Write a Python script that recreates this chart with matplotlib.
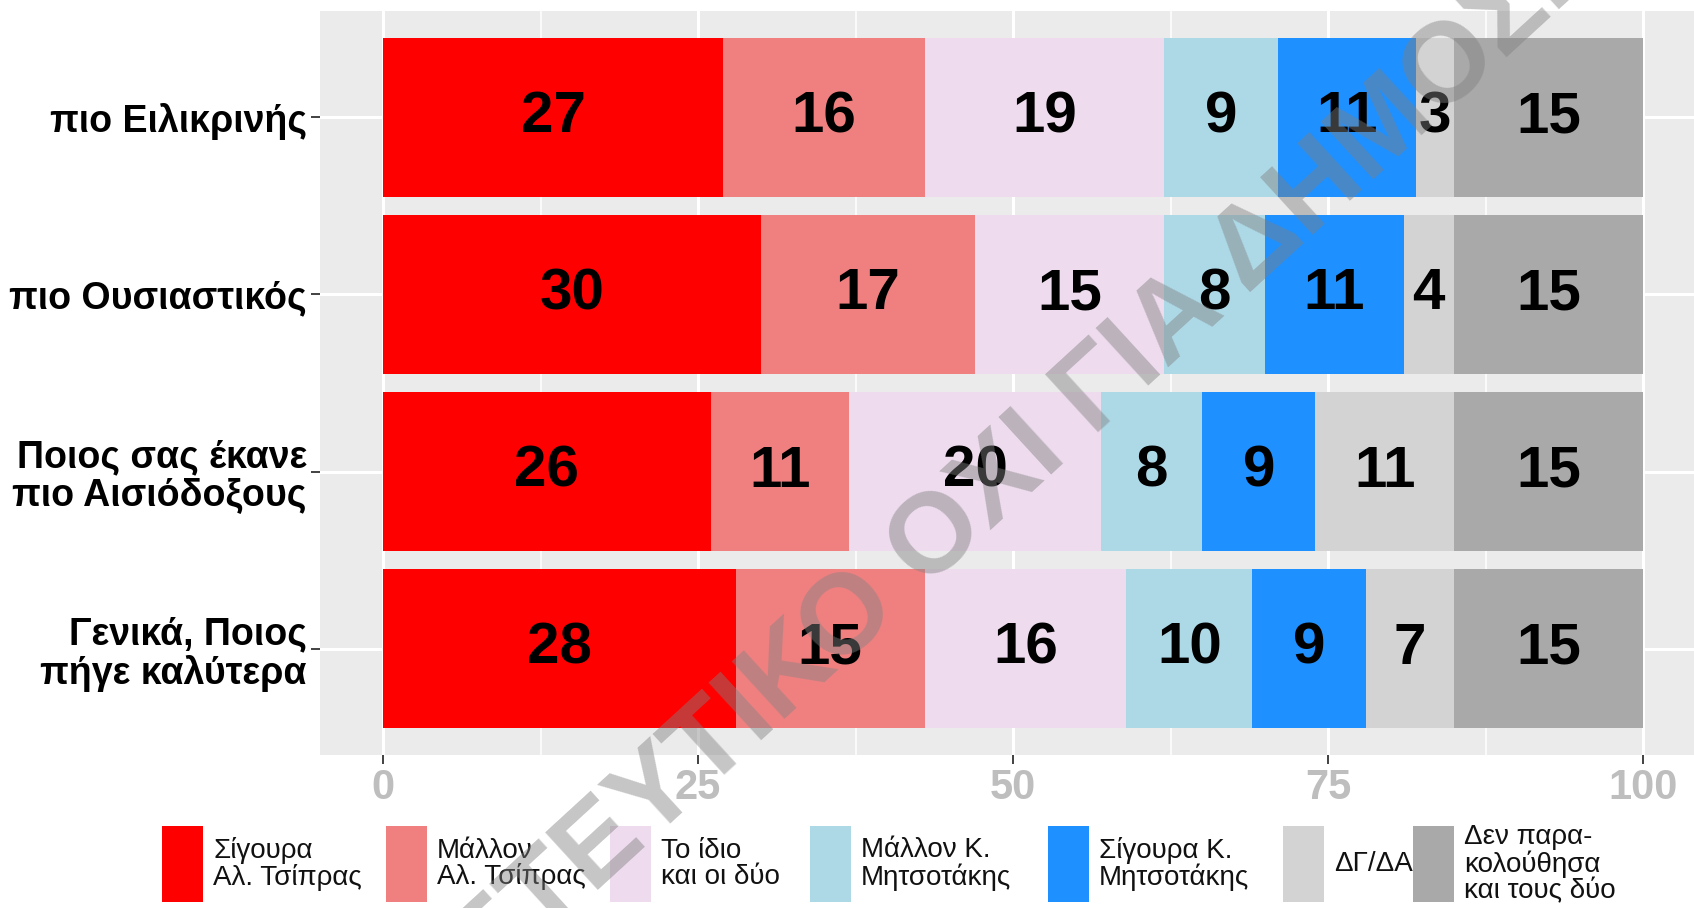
import numpy as np
import matplotlib
matplotlib.use("Agg")
import matplotlib.pyplot as plt
from matplotlib.patches import Rectangle

# data
questions = ["πιο Ειλικρινής", "πιο Ουσιαστικός", "Ποιος σας έκανε\nπιο Αισιόδοξους", "Γενικά, Ποιος\nπήγε καλύτερα"]
answers = ["Σίγουρα\nΑλ. Τσίπρας", "Μάλλον\nΑλ. Τσίπρας", "Το ίδιο\nκαι οι δύο", "Μάλλον Κ.\nΜητσοτάκης",
           "Σίγουρα Κ.\nΜητσοτάκης", "ΔΓ/ΔΑ", "Δεν παρα-\nκολούθησα\nκαι τους δύο"]
sure_tsipras = [27, 30, 26, 28]
rather_tsipras = [16, 17, 11, 15]
both_same = [19, 15, 20, 16]
rather_mitsotakis = [9, 8, 8, 10]
sure_mitsotakis = [11, 11, 9, 9]
dk_na = [3, 4, 11, 7]
not_watched = [15, 15, 15, 15]
x_ticks = [0, 25, 50, 75, 100]

series = [sure_tsipras, rather_tsipras, both_same, rather_mitsotakis, sure_mitsotakis, dk_na, not_watched]
colors = ["#FF0000", "#F08080", "#EEDCEE", "#ADD8E6", "#1E90FF", "#D3D3D3", "#A9A9A9"]

narrow = ["Liberation Sans Narrow", "Liberation Sans", "DejaVu Sans"]
sans = ["Liberation Sans", "DejaVu Sans"]

W, H = 1694, 908
fig = plt.figure(figsize=(W / 100, H / 100), dpi=100)
ax = fig.add_axes([320 / W, 1 - 755 / H, (1706 - 320) / W, (755 - 11) / H])
ax.set_facecolor("#EBEBEB")
for s in ax.spines.values():
    s.set_visible(False)

y = np.arange(len(questions))
left = np.zeros(len(questions))
for vals, col in zip(series, colors):
    vals = np.array(vals)
    ax.barh(y, vals, left=left, height=0.9, color=col, zorder=2)
    for yi, l, v in zip(y, left, vals):
        ax.text(l + v / 2, yi, str(v), ha="center", va="center", fontsize=42,
                fontweight="bold", family=sans, color="black", zorder=3)
    left = left + vals

ax.set_xlim(-5, 105)
ax.set_ylim(3.6, -0.6)
ax.set_xticks(x_ticks)
ax.set_xticks([12.5, 37.5, 62.5, 87.5], minor=True)
ax.set_yticks(y)
ax.set_yticklabels(questions, fontsize=27, fontweight="bold", family=sans, linespacing=1.1)
ax.set_xticklabels([str(t) for t in x_ticks], fontsize=30, fontweight="bold", family=narrow, color="#BEBEBE")
ax.grid(which="major", color="white", linewidth=2.2, zorder=0)
ax.grid(which="minor", axis="x", color="white", linewidth=1.1, zorder=0)
ax.set_axisbelow(True)
ax.tick_params(axis="both", which="major", length=6.5, width=1.3, color="#333333", pad=3)
ax.tick_params(axis="x", which="minor", length=0)

# legend drawn by hand along the bottom
key_x = [162, 386, 610, 810, 1048, 1283, 1413]
for kx, col, lab in zip(key_x, colors, answers):
    fig.patches.append(Rectangle((kx / W, 1 - 902 / H), 41 / W, 76 / H, transform=fig.transFigure,
                                 facecolor=col, edgecolor="none"))
    fig.text((kx + 51) / W, 1 - 864 / H, lab, ha="left", va="center", fontsize=20,
             family=narrow, color="#111111", linespacing=1.0)

# watermark
fig.text(1021 / W, 1 - 463 / H, "ΕΜΠΙΣΤΕΥΤΙΚΟ ΟΧΙ ΓΙΑ ΔΗΜΟΣΙΕΥΣΗ", rotation=42.5, ha="center", va="center",
         rotation_mode="anchor", fontsize=82, fontweight="bold", family=sans, color="#808080", alpha=0.45,
         zorder=10)

fig.savefig("out.png", dpi=100)
